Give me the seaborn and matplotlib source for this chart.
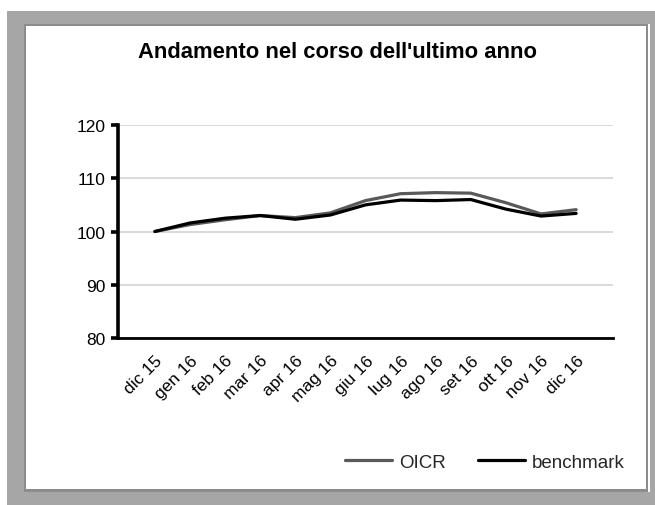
import matplotlib
matplotlib.use("Agg")
import matplotlib.pyplot as plt
from matplotlib.patches import Rectangle
from matplotlib.transforms import ScaledTranslation
import pandas as pd
import seaborn as sns

months = ["dic 15", "gen 16", "feb 16", "mar 16", "apr 16", "mag 16", "giu 16",
          "lug 16", "ago 16", "set 16", "ott 16", "nov 16", "dic 16"]
oicr = [100.0, 101.3, 102.2, 103.0, 102.6, 103.5, 105.8, 107.1, 107.3, 107.2, 105.4, 103.3, 104.1]
benchmark = [100.0, 101.6, 102.5, 103.0, 102.3, 103.1, 105.0, 105.9, 105.8, 106.0, 104.2, 102.9, 103.4]
series_names = ["OICR", "benchmark"]
y_ticks = [80, 90, 100, 110, 120]
title = "Andamento nel corso dell'ultimo anno"

df = pd.DataFrame({
    "mese": list(range(len(months))) * 2,
    "valore": oicr + benchmark,
    "serie": [series_names[0]] * len(months) + [series_names[1]] * len(months),
})

sns.set_theme(style="white")
plt.rcParams["font.family"] = ["Liberation Sans", "DejaVu Sans"]

W, H = 655, 506
fig = plt.figure(figsize=(W / 100, H / 100), dpi=100)
fig.patch.set_facecolor("white")


def px_rect(x0, y0, x1, y1, color, z):
    fig.patches.append(Rectangle((x0 / W, 1 - y1 / H), (x1 - x0) / W, (y1 - y0) / H,
                                 transform=fig.transFigure, facecolor=color,
                                 edgecolor="none", zorder=z))


# picture frame around the chart
px_rect(7, 12, W, H, "#a6a6a6", -10)
px_rect(24, 25, 648, 493, "#8c8c8c", -9)
px_rect(648, 25, 650, 493, "#ffffff", -9)
px_rect(26, 27, 646, 490, "#ffffff", -8)

ax = fig.add_axes([118 / W, 1 - 339 / H, (613 - 118) / W, (339 - 126) / H])
ax.set_facecolor("none")

sns.lineplot(data=df, x="mese", y="valore", hue="serie", ax=ax,
             palette={"OICR": "#595959", "benchmark": "#000000"},
             linewidth=2.3, legend=False)

ax.set_xlim(-1.05, len(months) - 1 + 1.05)
ax.set_ylim(80, 120)
ax.set_yticks(y_ticks)
ax.set_yticklabels([str(v) for v in y_ticks], fontsize=12.5, color="black")
ax.set_xticks(range(len(months)))
ax.set_xticklabels(months, rotation=45, ha="right", rotation_mode="anchor",
                   fontsize=12.5, color="black")
shift = ScaledTranslation(13 / 100, 0, fig.dpi_scale_trans)
for lbl in ax.get_xticklabels():
    lbl.set_transform(lbl.get_transform() + shift)
ax.set_xlabel("")
ax.set_ylabel("")

ax.grid(axis="y", color="#d9d9d9", linewidth=1.4)
ax.grid(axis="x", visible=False)
ax.set_axisbelow(True)

for side in ["top", "right"]:
    ax.spines[side].set_visible(False)
ax.spines["left"].set_color("black")
ax.spines["left"].set_linewidth(2.6)
ax.spines["bottom"].set_color("black")
ax.spines["bottom"].set_linewidth(2.0)
ax.tick_params(axis="y", length=5, width=2.6, color="black", pad=4, left=True)
ax.tick_params(axis="x", length=0, pad=10.5)

fig.text(338 / W, 1 - 53 / H, title, ha="center", va="center",
         fontsize=15.8, fontweight="bold", color="black")

handles = [plt.Line2D([], [], color="#595959", linewidth=2.3),
           plt.Line2D([], [], color="#000000", linewidth=2.3)]
fig.legend(handles, series_names, loc="center right",
           bbox_to_anchor=(638 / W, 1 - 463 / H), ncol=2, frameon=False,
           fontsize=13.5, handlelength=2.5, columnspacing=1.7, handletextpad=0.4,
           borderpad=0.2)

fig.savefig("out.png", dpi=100, facecolor=fig.get_facecolor())
